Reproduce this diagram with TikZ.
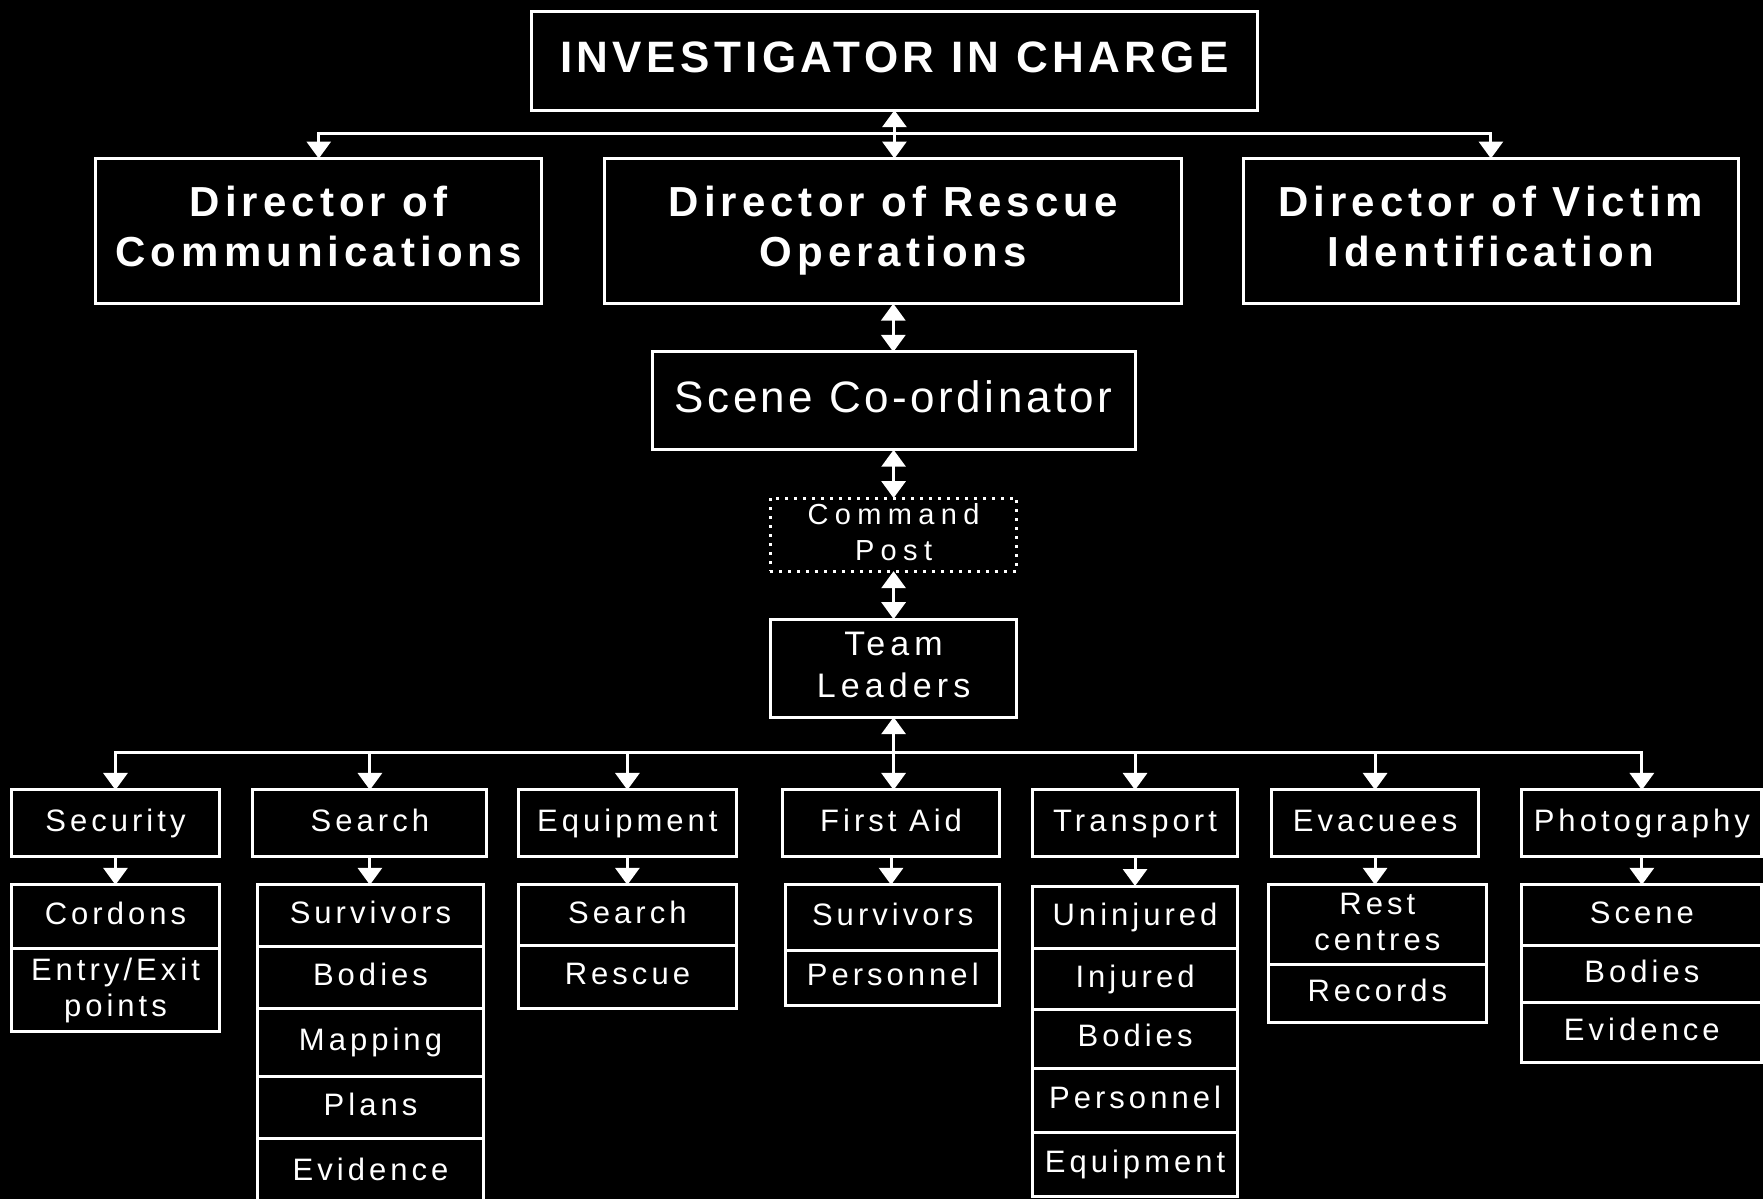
\documentclass[tikz,border=0pt]{standalone}
\usepackage{fontspec}
\setmainfont{Liberation Sans}
\newfontfamily\fTitle[LetterSpace=10]{Liberation Sans}
\newfontfamily\fDir[LetterSpace=12]{Liberation Sans}
\newfontfamily\fScene[LetterSpace=8]{Liberation Sans}
\newfontfamily\fCmd[LetterSpace=22]{Liberation Sans}
\newfontfamily\fTeam[LetterSpace=15]{Liberation Sans}
\newfontfamily\fSmall[LetterSpace=13]{Liberation Sans}
\usetikzlibrary{arrows.meta}
% name, x1, y1, x2, y2, style, text
\newcommand\bx[7]{\node[#6, minimum width={(#4-#2)*0.5622pt}, minimum height={(#5-#3)*0.5622pt}] (#1) at ({(#2+#4)/2},{(#3+#5)/2}) {#7};}
\begin{document}
\begin{tikzpicture}[x=0.5622pt,y=-0.5622pt,
  box/.style={draw=white, line width=1.5pt, inner sep=0pt, outer sep=0pt, text=white, align=center},
  ttl/.style={box, font=\fTitle\bfseries\fontsize{22}{26}\selectfont, text height=16pt, text depth=4.6pt},
  dir/.style={box, font=\fDir\bfseries\fontsize{21}{25}\selectfont},
  scn/.style={box, font=\fScene\fontsize{22}{26}\selectfont, text height=16pt, text depth=4.6pt},
  cmdbox/.style={box, dash pattern=on 1.5pt off 3pt, font=\fCmd\fontsize{14.5}{18}\selectfont},
  team/.style={box, font=\fTeam\fontsize{17}{21}\selectfont},
  cat/.style={box, font=\fSmall\fontsize{15.5}{18}\selectfont, text height=11.2pt, text depth=3.3pt},
  item/.style={box, font=\fSmall\fontsize{15.5}{18}\selectfont, text height=11.2pt, text depth=3.3pt},
  mitem/.style={box, font=\fSmall\fontsize{15.5}{18}\selectfont},
  conn/.style={draw=white, line width=1.5pt},
  >={Triangle[width=12pt,length=8.5pt]}]
\fill[black] (0,0) rectangle (1568,1066);
\clip (0,0) rectangle (1568,1066);
% top levels
\bx{title}{473}{10.5}{1118}{98}{ttl}{INVESTIGATOR IN CHARGE}
\bx{comm}{85}{141}{482}{270}{dir}{Director of\\Communications\vphantom{y}}
\bx{resc}{538}{141}{1051}{270}{dir}{Director of Rescue\\Operations\vphantom{y}}
\bx{vict}{1106}{141}{1546}{270}{dir}{Director of Victim\\Identification\vphantom{y}}
\bx{scene}{580}{313}{1009.5}{400}{scn}{Scene Co-ordinator}
\bx{cmd}{685}{443}{904.5}{508}{cmdbox}{Command\\Post\vphantom{y}}
\bx{tl}{685}{550.7}{904.5}{637.8}{team}{Team\\Leaders\vphantom{y}}
% categories
\bx{sec}{10.4}{702.6}{195}{762}{cat}{Security}
\bx{sea}{225}{702.6}{433}{762}{cat}{Search}
\bx{equ}{461}{702.6}{655}{762}{cat}{Equipment}
\bx{fa}{696}{702.6}{889}{762}{cat}{First Aid}
\bx{tra}{918}{702.6}{1101}{762}{cat}{Transport}
\bx{eva}{1131}{702.6}{1315}{762}{cat}{Evacuees}
\bx{pho}{1353.5}{702.6}{1567}{762}{cat}{Photography}
% lists
\bx{sec1}{10.4}{787}{195}{844}{item}{Cordons}
\bx{sec2}{10.4}{844}{195}{917.6}{mitem}{Entry/Exit\\points\vphantom{y}}
\bx{sea1}{229}{787}{430}{842}{item}{Survivors}
\bx{sea2}{229}{842}{430}{897}{item}{Bodies}
\bx{sea3}{229}{897}{430}{957}{item}{Mapping}
\bx{sea4}{229}{957}{430}{1013}{item}{Plans}
\bx{sea5}{229}{1013}{430}{1073}{item}{Evidence}
\bx{equ1}{461}{787}{655}{841}{item}{Search}
\bx{equ2}{461}{841}{655}{897}{item}{Rescue}
\bx{fa1}{699}{787}{889}{845}{item}{Survivors}
\bx{fa2}{699}{845}{889}{894}{item}{Personnel}
\bx{tra1}{918}{788}{1101}{844}{item}{Uninjured}
\bx{tra2}{918}{844}{1101}{897.7}{item}{Injured}
\bx{tra3}{918}{897.7}{1101}{950}{item}{Bodies}
\bx{tra4}{918}{950}{1101}{1007}{item}{Personnel}
\bx{tra5}{918}{1007}{1101}{1064}{item}{Equipment}
\bx{eva1}{1128}{787}{1322}{858}{mitem}{Rest\\centres\vphantom{y}}
\bx{eva2}{1128}{858}{1322}{909}{item}{Records}
\bx{pho1}{1353.5}{787}{1567}{841}{item}{Scene}
\bx{pho2}{1353.5}{841}{1567}{892}{item}{Bodies}
\bx{pho3}{1353.5}{892}{1567}{945}{item}{Evidence}
% connectors, top
\coordinate (busT) at (795.5,119);
\draw[conn,<->] (title.south) -- (title.south |- resc.north);
\draw[conn,->] (busT) -| (comm.north);
\draw[conn,->] (busT) -| (vict.north);
\draw[conn,<->] (resc.south) -- (resc.south |- scene.north);
\draw[conn,<->] (scene.south) -- (scene.south |- cmd.north);
\draw[conn,<->] (cmd.south) -- (tl.north);
\draw[conn,<->] (tl.south) -- (tl.south |- fa.north);
% bottom bus
\coordinate (busB) at (794.75,669);
\foreach \c in {sec,sea,equ,tra,eva,pho}
  \draw[conn,->] (busB) -| (\c.north);
% category to list
\foreach \c in {sec,sea,equ,fa,tra,eva,pho}
  \draw[conn,->] (\c.south) -- (\c.south |- \c1.north);
\end{tikzpicture}
\end{document}
